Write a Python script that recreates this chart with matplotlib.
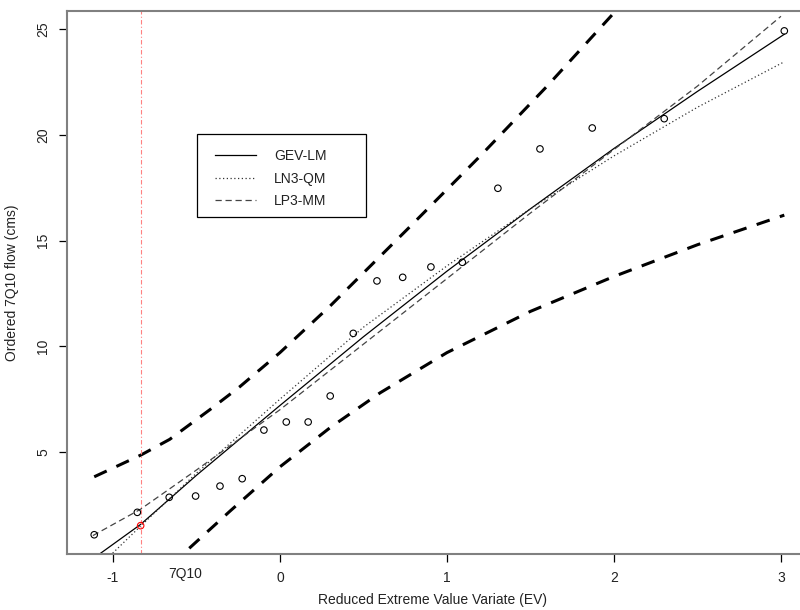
import matplotlib
matplotlib.use("Agg")
import matplotlib.pyplot as plt
from matplotlib.patches import Rectangle

plt.rcParams['font.family'] = ['Liberation Sans', 'DejaVu Sans']
plt.rcParams['axes.unicode_minus'] = False

# Observed ordered 7Q10 flows vs reduced variate
obs_ev = [-1.112, -0.854, -0.663, -0.505, -0.359, -0.226, -0.096, 0.038, 0.169, 0.301,
          0.439, 0.581, 0.735, 0.904, 1.092, 1.305, 1.557, 1.870, 2.301, 3.020]
obs_q = [1.09, 2.15, 2.86, 2.92, 3.39, 3.74, 6.04, 6.42, 6.42, 7.65,
         10.61, 13.09, 13.26, 13.75, 13.97, 17.47, 19.33, 20.32, 20.76, 24.91]

# 7Q10 estimate
q7q10_ev = -0.834
q7q10_val = 1.52

# Fitted distribution curves
gev_ev = [-1.08, -0.834, -0.5, 0.0, 0.5, 1.0, 1.5, 2.0, 2.5, 3.02]
gev_q = [0.18, 1.58, 3.9, 7.2, 10.45, 13.55, 16.5, 19.35, 22.05, 24.75]

ln3_ev = [-1.05, -0.834, -0.5, 0.0, 0.5, 1.0, 1.5, 2.0, 2.5, 3.02]
ln3_q = [-0.15, 1.5, 4.0, 7.5, 10.9, 13.8, 16.5, 19.0, 21.3, 23.45]

lp3_ev = [-1.12, -0.834, -0.5, 0.0, 0.5, 1.0, 1.5, 2.0, 2.5, 3.0]
lp3_q = [1.05, 2.3, 4.15, 7.0, 10.1, 13.2, 16.3, 19.3, 22.3, 25.6]

# Confidence bands (GEV)
up_ev = [-1.112, -0.832, -0.66, -0.42, -0.24, 0.0, 0.3, 0.759, 1.2, 1.6, 2.016]
up_q = [3.83, 4.86, 5.6, 7.0, 8.09, 9.7, 11.9, 15.5, 19.0, 22.3, 25.9]

lo_ev = [-0.543, -0.3, 0.0, 0.3, 0.6, 1.0, 1.5, 2.0, 2.5, 3.02]
lo_q = [0.45, 2.2, 4.3, 6.15, 7.8, 9.7, 11.65, 13.3, 14.8, 16.2]

legend_labels = ['GEV-LM', 'LN3-QM', 'LP3-MM']

FS = 10
fig = plt.figure(figsize=(8.0, 6.1), dpi=100)
ax = fig.add_axes([67/800, 56/610, 733/800, 543/610])

ax.plot(gev_ev, gev_q, color='black', lw=0.9, ls='-', label=legend_labels[0])
ax.plot(ln3_ev, ln3_q, color='#333333', lw=0.9, ls=(0, (1, 2)), label=legend_labels[1])
ax.plot(lp3_ev, lp3_q, color='#444444', lw=0.9, ls=(0, (5, 3)), label=legend_labels[2])

ax.plot(up_ev, up_q, color='black', lw=2.2, ls=(0, (4.5, 3.5)))
ax.plot(lo_ev, lo_q, color='black', lw=2.2, ls=(0, (4.5, 3.5)))

ax.scatter(obs_ev, obs_q, s=22, facecolors='none', edgecolors='black', linewidths=0.8, zorder=3)
ax.scatter([q7q10_ev], [q7q10_val], s=22, facecolors='none', edgecolors='red', linewidths=0.8, zorder=4)
ax.axvline(q7q10_ev, color='#ff8080', lw=0.8, ls=(0, (4, 2, 1, 2)))

ax.set_xlim(-1.275, 3.114)
ax.set_ylim(0.18, 25.85)
ax.set_xticks([-1, 0, 1, 2, 3])
ax.set_yticks([5, 10, 15, 20, 25])
ax.set_yticklabels(['5', '10', '15', '20', '25'], rotation=90, va='center')
ax.tick_params(axis='both', length=6, width=0.9, labelsize=FS, colors='black', labelcolor='#222222', pad=6)
for s in ['left', 'bottom', 'top']:
    ax.spines[s].set_color('#808080')
    ax.spines[s].set_linewidth(1.5)
ax.spines['right'].set_visible(False)

ax.text(-0.569, -0.024, '7Q10', transform=ax.get_xaxis_transform(), ha='center', va='top',
        fontsize=FS, color='#222222')

ax.set_xlabel('Reduced Extreme Value Variate (EV)', fontsize=FS, color='#222222')
ax.xaxis.set_label_coords((433-67)/733, -0.072)
ax.set_ylabel('Ordered 7Q10 flow (cms)', fontsize=FS, color='#222222')
ax.yaxis.set_label_coords(-(67-19)/733, 0.5)

# legend box
ax.add_patch(Rectangle(((197-67)/733, (554-217)/543), (366-197)/733, (217-134)/543,
                       transform=ax.transAxes, facecolor='white', edgecolor='black',
                       lw=0.9, zorder=5))
leg = ax.legend(loc='upper left', bbox_to_anchor=((215-67)/733, (554-149)/543),
                frameon=False, fontsize=FS, handlelength=2.95, handletextpad=1.3,
                borderpad=0, labelspacing=0.62, borderaxespad=0)
leg.set_zorder(6)
for t in leg.get_texts():
    t.set_color('#222222')

fig.savefig('out.png', dpi=100)
